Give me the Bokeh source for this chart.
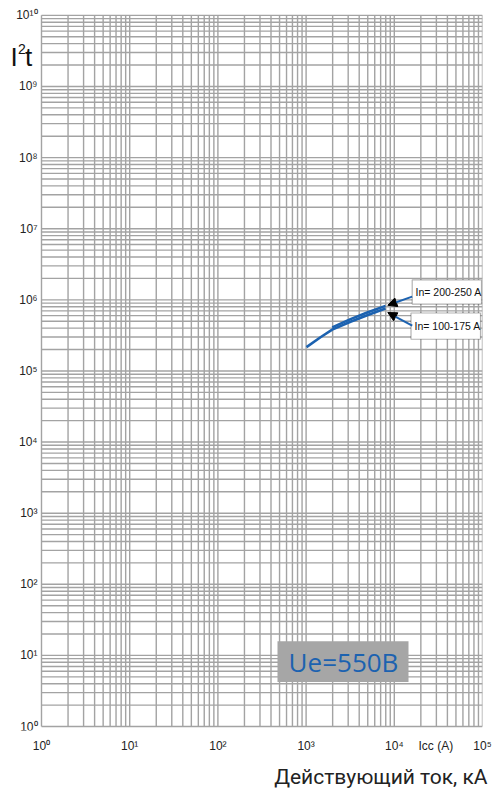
from bokeh.plotting import figure
from bokeh.models import FixedTicker, Label, Arrow, NormalHead, BoxAnnotation
from bokeh.core.properties import value
from bokeh.embed import file_html
from bokeh.resources import INLINE

# ---------------- data ----------------
curve_labels = ["In= 100-175 A", "In= 200-250 A"]
icc_100_175 = [1010, 1456, 1977, 3187, 4930, 7943]
i2t_100_175 = [2.16e5, 2.98e5, 3.81e5, 4.92e5, 6.08e5, 7.54e5]
icc_200_250 = [1977, 3187, 4930, 7943]
i2t_200_250 = [4.10e5, 5.35e5, 6.64e5, 8.22e5]
x_decades = [0, 1, 2, 3, 4, 5]
y_decades = [0, 1, 2, 3, 4, 5, 6, 7, 8, 9, 10]
minor_steps = [2, 3, 4, 5, 6, 7, 8, 9]
x_title = "Icc (A)"
x_subtitle = "Действующий ток, кА"
voltage_label = "Ue=550B"

SUP = str.maketrans("0123456789", "⁰¹²³⁴⁵⁶⁷⁸⁹")
def sup_label(e):
    return "10" + str(e).translate(SUP)

BLUE = "#1c62b0"
GRID = "#a3a3a3"
TXT = "#222222"

W, H = 494, 793
X0, X5 = 41, 482      # pixel columns of 10^0 and 10^5
Y10, Y0 = 15, 733     # pixel rows of 10^10 and 10^0
FB = 737              # bottom edge of the drawing frame
DXD = (X5 - X0) / 5
DYD = (Y0 - Y10) / 10

def dx(px):
    return 10 ** ((px - X0) / DXD)

def dy(py):
    return 10 ** ((Y0 - py) / DYD)

xmaj = [10 ** e for e in x_decades]
xmin = [k * 10 ** e for e in x_decades[:-1] for k in minor_steps]
ymaj = [10 ** e for e in y_decades]
ymin = [k * 10 ** e for e in y_decades[:-1] for k in minor_steps]

p = figure(width=W, height=H, x_axis_type="log", y_axis_type="log",
           x_range=(dx(0), xmaj[-1]), y_range=(dy(FB), dy(0)),
           output_backend="svg", toolbar_location=None,
           min_border_left=0, min_border_right=W - X5,
           min_border_top=0, min_border_bottom=H - FB)
p.background_fill_color = "white"
p.border_fill_color = "white"
p.outline_line_color = None
p.grid.visible = False
p.yaxis.visible = False

# grid (log decades with 2..9 subdivisions)
xg = xmaj + xmin
yg = ymaj + ymin
p.segment(x0=xg, y0=[ymaj[0]] * len(xg), x1=xg, y1=[ymaj[-1]] * len(xg),
          line_color=GRID, line_width=1.4)
p.segment(x0=[xmaj[0]] * len(yg), y0=yg, x1=[xmaj[-1]] * len(yg), y1=yg,
          line_color=GRID, line_width=1.4)

# x axis (real axis, below)
p.xaxis.ticker = FixedTicker(ticks=xmaj, minor_ticks=[])
p.xaxis.major_label_overrides = {v: sup_label(e) for e, v in zip(x_decades, xmaj)}
p.xaxis.major_tick_line_color = None
p.xaxis.minor_tick_line_color = None
p.xaxis.axis_line_color = None
p.xaxis.major_label_text_font = "Liberation Sans"
p.xaxis.major_label_text_font_size = "12px"
p.xaxis.major_label_text_color = TXT
p.xaxis.major_label_standoff = 2

# y tick labels
p.text(x=[dx(37)] * len(ymaj), y=ymaj, text=[sup_label(e) for e in y_decades],
       text_align="right", text_baseline="middle",
       text_font=value("Liberation Sans"), text_font_size=value("12px"), text_color=TXT)

# curves
p.line(icc_100_175, i2t_100_175, line_color=BLUE, line_width=2.6)
p.line(icc_200_250, i2t_200_250, line_color=BLUE, line_width=2.6)

# callout boxes + arrows
p.add_layout(BoxAnnotation(left=dx(411.7), right=dx(481), top=dy(282), bottom=dy(306.5),
                           fill_color="white", fill_alpha=1, line_color="black", line_width=1.2))
p.add_layout(BoxAnnotation(left=dx(410.5), right=dx(480), top=dy(315.5), bottom=dy(342),
                           fill_color="white", fill_alpha=1, line_color="black", line_width=1.2))
p.add_layout(Label(x=dx(415), y=dy(294), text=curve_labels[1], text_baseline="middle",
                   text_font="Liberation Sans", text_font_size="10.5px", text_color="#111111"))
p.add_layout(Label(x=dx(414), y=dy(328.5), text=curve_labels[0], text_baseline="middle",
                   text_font="Liberation Sans", text_font_size="10.5px", text_color="#111111"))
p.add_layout(Arrow(end=NormalHead(size=9, fill_color="black", line_color="black"),
                   x_start=dx(411.7), y_start=dy(299), x_end=dx(387.3), y_end=dy(307.7),
                   line_color=BLUE, line_width=2))
p.add_layout(Arrow(end=NormalHead(size=9, fill_color="black", line_color="black"),
                   x_start=dx(411.7), y_start=dy(328.3), x_end=dx(387.3), y_end=dy(315),
                   line_color=BLUE, line_width=2))

# voltage box
p.add_layout(BoxAnnotation(left=dx(277), right=dx(408), top=dy(647), bottom=dy(688),
                           fill_color="#a6a6a6", fill_alpha=1, line_color=None))
p.add_layout(Label(x=dx(343), y=dy(668), text=voltage_label, text_align="center",
                   text_baseline="middle", text_font="Open Sans", text_font_size="26px",
                   text_color=BLUE))

# I^2t title
p.add_layout(Label(x=dx(10), y=dy(57), text="I", text_font="Liberation Sans",
                   text_font_size="26px", text_color="#111111", text_baseline="alphabetic"))
p.add_layout(Label(x=dx(17.5), y=dy(49), text="2", text_font="Liberation Sans",
                   text_font_size="14px", text_color="#111111", text_baseline="alphabetic"))
p.add_layout(Label(x=dx(24.5), y=dy(57), text="t", text_font="Liberation Sans",
                   text_font_size="26px", text_color="#111111", text_baseline="alphabetic"))

# axis texts (side panel so they are not clipped to the frame)
p.add_layout(Label(x=dx(418), y=dy(753), text=x_title, text_baseline="middle",
                   text_font="Liberation Sans", text_font_size="12px", text_color=TXT), "below")
p.add_layout(Label(x=dx(487), y=dy(784), text=x_subtitle, text_align="right",
                   text_baseline="alphabetic", text_font="Roboto", text_font_size="21px",
                   text_color=TXT), "below")

open("out.html", "w").write(file_html(p, INLINE))
